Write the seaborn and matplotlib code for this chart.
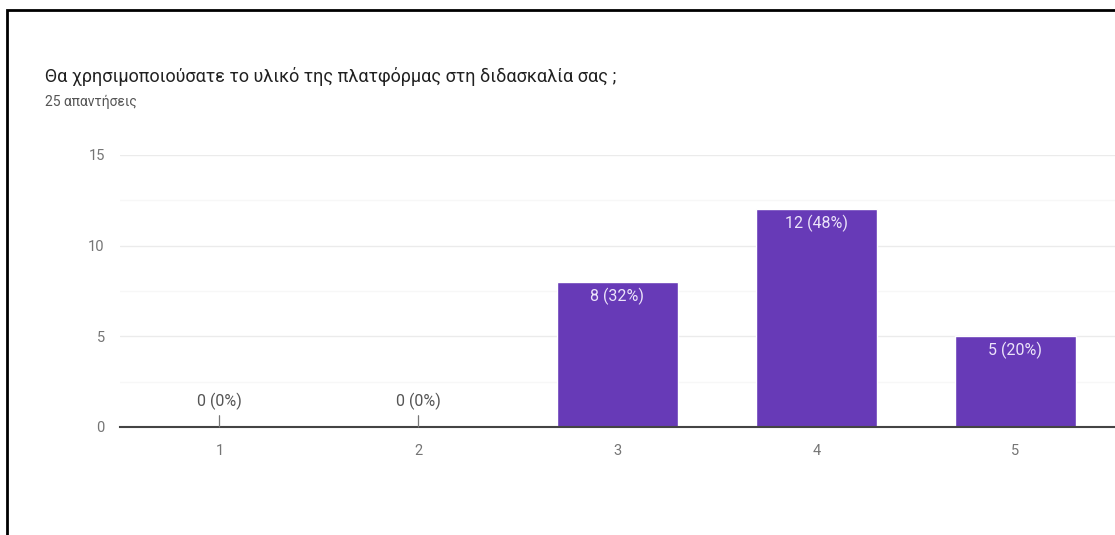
import matplotlib
matplotlib.use("Agg")
import matplotlib.pyplot as plt
from matplotlib.patches import Rectangle
from matplotlib.ticker import MultipleLocator
import seaborn as sns
import pandas as pd

# Survey results
title = "Θα χρησιμοποιούσατε το υλικό της πλατφόρμας στη διδασκαλία σας ;"
subtitle = "25 απαντήσεις"
categories = ["1", "2", "3", "4", "5"]
counts = [0, 0, 8, 12, 5]
percents = [0, 0, 32, 48, 20]
y_ticks = [0, 5, 10, 15]

sns.set_theme(style="white")
plt.rcParams["font.family"] = ["Roboto", "DejaVu Sans"]

df = pd.DataFrame({"answer": categories, "count": counts})

fig = plt.figure(figsize=(11.15, 5.35), dpi=100)
ax = fig.add_axes([120 / 1115, 1 - 427 / 535, 1 - 120 / 1115, (427 - 155) / 535])

purple = "#673AB7"
sns.barplot(data=df, x="answer", y="count", color=purple, saturation=1,
            width=0.61, ax=ax, zorder=3)

ax.set_ylim(0, 15)
ax.set_xlim(-0.5, len(categories) - 0.5)
ax.yaxis.set_minor_locator(MultipleLocator(2.5))
ax.set_yticks(y_ticks)
ax.grid(axis="y", which="major", color="#ebebeb", linewidth=1, zorder=0)
ax.grid(axis="y", which="minor", color="#f7f7f7", linewidth=1, zorder=0)
ax.set_axisbelow(True)

for side in ["top", "right", "left"]:
    ax.spines[side].set_visible(False)
ax.spines["bottom"].set_color("#444444")
ax.spines["bottom"].set_linewidth(1.5)
ax.spines["bottom"].set_zorder(4)

ax.tick_params(axis="both", which="both", length=0, labelsize=10.5,
               labelcolor="#757575")
ax.tick_params(axis="y", pad=11)
ax.tick_params(axis="x", pad=12)
ax.set_xlabel("")
ax.set_ylabel("")

for i, (c, p) in enumerate(zip(counts, percents)):
    label = f"{c} ({p}%)"
    if c == 0:
        ax.annotate(label, xy=(i, c), xytext=(0, 26), textcoords="offset pixels",
                    ha="center", va="center", fontsize=11.5, color="#555555",
                    arrowprops=dict(arrowstyle="-", color="#777777", lw=0.9,
                                    shrinkA=2, shrinkB=0), zorder=5)
    else:
        ax.annotate(label, xy=(i, c), xytext=(0, -14), textcoords="offset pixels",
                    ha="center", va="center", fontsize=11.5, color="#ECE4FA",
                    zorder=5)

fig.text(45 / 1115, 1 - 82 / 535, title, fontsize=13, color="#212121",
         ha="left", va="baseline")
fig.text(45 / 1115, 1 - 106 / 535, subtitle, fontsize=10, color="#555555",
         ha="left", va="baseline")

# Card frame
fig.patches.append(Rectangle((7 / 1115, -0.05), 1.1, 1 - 10 / 535 + 0.05,
                             transform=fig.transFigure, fill=False,
                             edgecolor="black", linewidth=2))

fig.savefig("out.png", dpi=100)
